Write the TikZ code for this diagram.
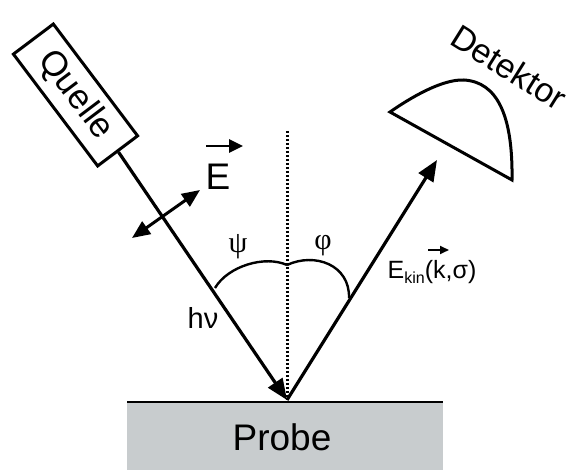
\documentclass[tikz,border=0pt]{standalone}
\usepackage{fontspec}
\setmainfont{Liberation Sans}
\newfontfamily\greekserif{Liberation Serif}
\usetikzlibrary{arrows.meta}
\definecolor{probegray}{RGB}{200,204,206}
\tikzset{
  ray/.style={line width=3.2pt,-{Triangle[length=21pt,width=17pt]}},
  dblarrow/.style={line width=3pt,{Triangle[length=18pt,width=15pt]}-{Triangle[length=18pt,width=15pt]}},
  vecarrow/.style={line width=2.6pt,-{Triangle[length=14pt,width=13pt]}},
  smallvec/.style={line width=1.8pt,-{Triangle[length=9pt,width=8pt]}},
  anglearc/.style={line width=2.4pt},
  normal/.style={line width=3pt,dash pattern=on 2.2pt off 1.8pt},
  bigtext/.style={inner sep=0pt,font=\fontsize{37}{40}\selectfont},
  midtext/.style={inner sep=0pt,font=\fontsize{29}{30}\selectfont},
  greek/.style={inner sep=0pt,font=\greekserif\fontsize{30}{30}\selectfont},
  quellebox/.style={draw,line width=3pt,minimum width=140pt,minimum height=50pt,inner sep=0pt,font=\fontsize{35}{38}\selectfont}
}
\begin{document}
\begin{tikzpicture}[x=1pt,y=-1pt]
\useasboundingbox (0,0) rectangle (571,470);
% sample
\fill[probegray] (127,402) rectangle (443,470);
\coordinate (pl) at (127,402);
\coordinate (pr) at (443,402);
\draw[line width=2.4pt] (pl) -- (pr);
\node[bigtext] (probe) at (282,437) {Probe};
% impact point and normal
\coordinate (O) at (287,400);
\coordinate (ntop) at (287,131);
\draw[normal] (ntop) -- (O);
% source
\node[quellebox,rotate=-53] (quelle) at (75.5,95) {Quelle};
\draw[ray] (quelle.east) -- (O);
% polarisation
\coordinate (pa) at (132,238);
\coordinate (pb) at (200,190);
\draw[dblarrow] (pa) -- (pb);
\node[bigtext] (E) at (218,177) {E};
\draw[vecarrow] ([shift={(-12,-31)}]E.center) -- ([shift={(25,-31)}]E.center);
% reflected
\coordinate (dtip) at (437,160);
\draw[ray] (O) -- (dtip);
% detector
\draw[line width=3pt,line join=miter] (390,112) -- (512,180) .. controls (513,115) and (497,82) .. (464,80) .. controls (442,79) and (410,98) .. cycle;
\node[inner sep=0pt,font=\fontsize{34}{36}\selectfont,rotate=-32] (det) at (509,67) {Detektor};
% angles
\coordinate (aL) at (215,288);
\coordinate (aM) at (287,265);
\coordinate (aR) at (349,298);
\draw[anglearc] (aL) .. controls (228,266) and (265,255) .. (aM);
\draw[anglearc] (aM) .. controls (315,252) and (350,265) .. (aR);
\node[greek] (psi) at (238,247) {ψ};
\node[greek] (phi) at (323,246) {φ};
\node[midtext] (hnu) at (203,318) {hν};
\node[inner sep=0pt,font=\fontsize{25}{26}\selectfont] (ekin) at (432,272) {E\raisebox{-5pt}{\fontsize{16}{16}\selectfont kin}(k,σ)};
\draw[smallvec] ([shift={(-4,-22)}]ekin.center) -- ([shift={(17,-22)}]ekin.center);
\end{tikzpicture}
\end{document}
